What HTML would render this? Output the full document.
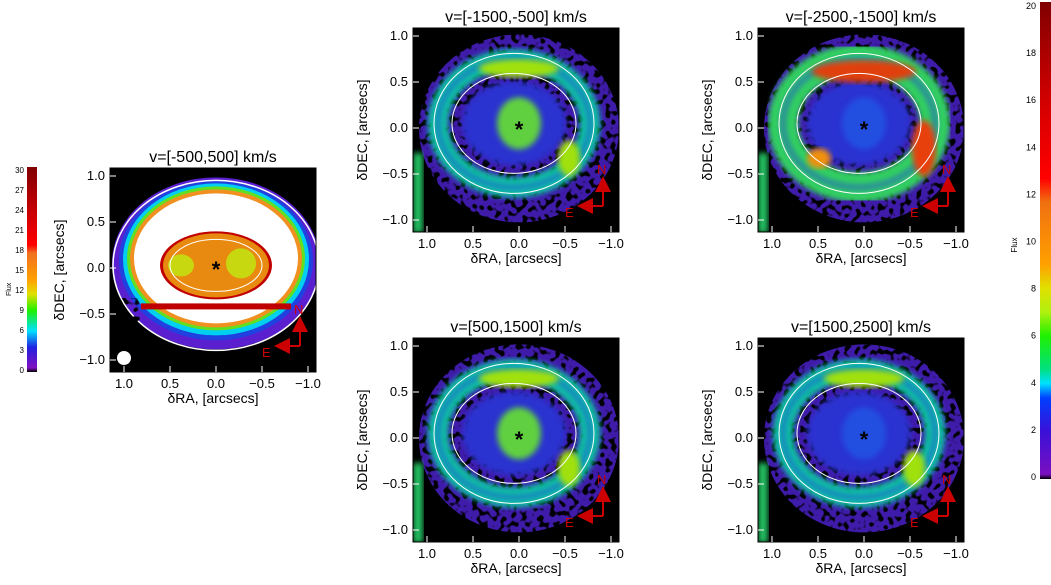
<!DOCTYPE html>
<html><head><meta charset="utf-8"><style>
body{margin:0;background:#fff;width:1051px;height:585px;overflow:hidden}
svg{display:block;font-family:"Liberation Sans",sans-serif}
</style></head><body>
<svg id="fig" width="1051" height="585" viewBox="0 0 1051 585">
<defs>
<linearGradient id="cbR" x1="0" y1="1" x2="0" y2="0">
<stop offset="0" stop-color="#000"/><stop offset="0.01" stop-color="#7a10c0"/><stop offset="0.1" stop-color="#3a10d8"/><stop offset="0.17" stop-color="#0040ff"/><stop offset="0.2" stop-color="#00e0ff"/><stop offset="0.23" stop-color="#00e080"/><stop offset="0.3" stop-color="#20f000"/><stop offset="0.35" stop-color="#b0f010"/><stop offset="0.4" stop-color="#e0e000"/><stop offset="0.45" stop-color="#ffa000"/><stop offset="0.58" stop-color="#f07010"/><stop offset="0.63" stop-color="#ff0000"/><stop offset="0.8" stop-color="#d00000"/><stop offset="1" stop-color="#800000"/>
</linearGradient>
<linearGradient id="cbL" x1="0" y1="1" x2="0" y2="0">
<stop offset="0" stop-color="#000"/><stop offset="0.02" stop-color="#8010c0"/><stop offset="0.12" stop-color="#2020e0"/><stop offset="0.2" stop-color="#00e0ff"/><stop offset="0.3" stop-color="#20f000"/><stop offset="0.38" stop-color="#e0e000"/><stop offset="0.45" stop-color="#ffa000"/><stop offset="0.58" stop-color="#f07020"/><stop offset="0.62" stop-color="#ff0000"/><stop offset="1" stop-color="#800000"/>
</linearGradient>
<filter id="bl"><feGaussianBlur stdDeviation="3"/></filter>
<filter id="speck" x="0" y="0" width="1" height="1">
<feTurbulence type="fractalNoise" baseFrequency="0.18" numOctaves="1" seed="3" result="n"/>
<feColorMatrix in="n" type="matrix" values="0 0 0 0 0  0 0 0 0 0  0 0 0 0 0  0 0 0 -9 4.4" result="m"/>
<feComposite in="m" in2="SourceGraphic" operator="in"/>
</filter>
</defs>
<g id="panels"></g>
<g>
<rect x="27" y="167" width="10" height="205" fill="url(#cbL)"/>
<text x="11" y="296" font-size="7" transform="rotate(-90 11 296)" fill="#000">Flux</text>
<g id="cbLticks" font-size="8" text-anchor="end"></g>
</g>
<g>
<rect x="1040" y="2" width="11" height="477" fill="url(#cbR)"/>
<text x="1017" y="245" font-size="8" transform="rotate(-90 1017 245)" text-anchor="middle">Flux</text>
<g id="cbRticks" font-size="9" text-anchor="end"></g>
</g>
</svg>
<script>
const NS="http://www.w3.org/2000/svg";
const panelTitles=["v=[-500,500] km/s","v=[-1500,-500] km/s","v=[-2500,-1500] km/s","v=[500,1500] km/s","v=[1500,2500] km/s"];
const tickValues=[1.0,0.5,0.0,-0.5,-1.0];
const tickLabels=["1.0","0.5","0.0","\u22120.5","\u22121.0"];
const cbLValues=[0,3,6,9,12,15,18,21,24,27,30];
const cbRValues=[0,2,4,6,8,10,12,14,16,18,20];
const panelX=[110,413,758,413,758];
const panelY=[168,28,28,338,338];
function mk(t,a,p){const e=document.createElementNS(NS,t);for(const k in a)e.setAttribute(k,a[k]);(p||document.getElementById('panels')).appendChild(e);return e;}
panelTitles.forEach((title,i)=>{
  const x0=panelX[i],y0=panelY[i],W=206,H=204;
  const sx=v=>x0+106-v*92, sy=v=>y0+100-v*92;
  const g=mk('g',{});
  
  
  mk('rect',{x:x0,y:y0,width:W,height:H,fill:'#000'},g);
  const cx=sx(0),cy=sy(0.05);
  const clip=mk('clipPath',{id:'c'+i},g);mk('rect',{x:x0,y:y0,width:W,height:H},clip);
  const m=mk('g',{'clip-path':'url(#c'+i+')'},g);
  if(i===0){
    mk('ellipse',{cx:cx,cy:cy,rx:104,ry:86,fill:'#5a20d0'},m);
    mk('ellipse',{cx:cx,cy:cy-3,rx:97,ry:80,fill:'#2040e0'},m);
    mk('ellipse',{cx:cx,cy:cy-4,rx:93,ry:76,fill:'#00d0f0'},m);
    mk('ellipse',{cx:cx,cy:cy-5,rx:89,ry:72,fill:'#60e020'},m);
    mk('ellipse',{cx:cx,cy:cy-5,rx:86,ry:69,fill:'#f09020'},m);
    mk('ellipse',{cx:cx,cy:cy-5,rx:82,ry:65,fill:'#fff'},m);
    mk('ellipse',{cx:cx,cy:cy+2,rx:103,ry:85,fill:'none',stroke:'#fff','stroke-width':1.5},m);
    mk('rect',{x:cx-75,y:cy+40,width:150,height:6,fill:'#c00000'},m);
    mk('ellipse',{cx:cx,cy:cy+2,rx:56,ry:34,fill:'#c00000'},m);
    mk('ellipse',{cx:cx,cy:cy+2,rx:53,ry:32,fill:'#e88a10'},m);
    mk('ellipse',{cx:cx-35,cy:cy+2,rx:13,ry:11,fill:'#c8d810'},m);
    mk('ellipse',{cx:cx+25,cy:cy,rx:15,ry:15,fill:'#c8d810'},m);
    mk('ellipse',{cx:cx,cy:cy+2,rx:46,ry:26,fill:'none',stroke:'#fff','stroke-width':1},m);
    mk('rect',{x:x0,y:y0+130,width:30,height:75,fill:'#000',filter:'url(#speck)'},m);
    mk('circle',{cx:x0+14,cy:y0+190,r:7,fill:'#fff'},m);
  }else{
    const hot=i===2;
    mk('ellipse',{cx:cx,cy:cy+5,rx:100,ry:94,fill:'#4a20c8',opacity:0.85},m);
    mk('rect',{x:x0,y:y0,width:W,height:H,fill:'#000',filter:'url(#speck)'},m);
    mk('ellipse',{cx:cx-5,cy:cy,rx:52,ry:42,fill:'#2a30d0',filter:'url(#bl)'},m);
    mk('ellipse',{cx:cx-5,cy:cy,rx:76,ry:64,fill:'none',stroke:hot?'#30d060':'#10c8a0','stroke-width':hot?30:20,filter:'url(#bl)'},m);
    mk('ellipse',{cx:cx-5,cy:cy,rx:76,ry:64,fill:'none',stroke:'#2040e0','stroke-width':6,opacity:0.5,filter:'url(#bl)'},m);
    if(hot){
      mk('ellipse',{cx:cx,cy:cy-52,rx:52,ry:11,fill:'#e04010',filter:'url(#bl)'},m);
      mk('ellipse',{cx:cx+60,cy:cy+25,rx:12,ry:28,fill:'#e84010',filter:'url(#bl)'},m);
      mk('ellipse',{cx:cx-45,cy:cy+35,rx:12,ry:10,fill:'#f09010',filter:'url(#bl)'},m);
    }else{
      mk('ellipse',{cx:cx,cy:cy-55,rx:40,ry:9,fill:'#a0e010',filter:'url(#bl)'},m);
      mk('ellipse',{cx:cx+50,cy:cy+35,rx:11,ry:18,fill:'#a0e010',filter:'url(#bl)'},m);
    }
    mk('ellipse',{cx:cx,cy:cy,rx:22,ry:26,fill:i===1||i===3?'#60d040':'#2050e0',filter:'url(#bl)'},m);
    mk('ellipse',{cx:cx-5,cy:cy,rx:80,ry:70,fill:'none',stroke:'#fff','stroke-width':1},m);
    mk('ellipse',{cx:cx-5,cy:cy,rx:62,ry:50,fill:'none',stroke:'#fff','stroke-width':1},m);
    mk('rect',{x:x0,y:y0+125,width:10,height:80,fill:'#20c060',filter:'url(#bl)'},m);
  }
  const st=mk('text',{x:cx,y:sy(0)+9,'font-size':22,'text-anchor':'middle','font-weight':'bold',fill:'#000'},g);st.textContent='*';
  const ax=x0+190,ay=y0+178;
  mk('path',{d:`M${ax} ${ay} V${ay-18} M${ax} ${ay} H${ax-22}`,stroke:'#c00',fill:'none','stroke-width':2},g);
  mk('polygon',{points:`${ax-8},${ay-14} ${ax+8},${ay-14} ${ax},${ay-30}`,fill:'#c00'},g);
  mk('polygon',{points:`${ax-10},${ay-8} ${ax-10},${ay+8} ${ax-26},${ay}`,fill:'#c00'},g);
  const n=mk('text',{x:ax-6,y:ay-32,'font-size':13,fill:'#c00'},g);n.textContent='N';
  const e=mk('text',{x:ax-38,y:ay+11,'font-size':13,fill:'#c00'},g);e.textContent='E';
  mk('rect',{x:x0,y:y0,width:W,height:H,fill:'none',stroke:'#000','stroke-width':1},g);
  tickValues.forEach((v,k)=>{
    const tx=sx(v),ty=sy(v);
    mk('line',{x1:tx,y1:y0+H,x2:tx,y2:y0+H-6,stroke:'#fff'},g);
    mk('line',{x1:x0,y1:ty,x2:x0+6,y2:ty,stroke:'#fff'},g);
    const lx=mk('text',{x:tx,y:y0+H+16,'font-size':13,'text-anchor':'middle'},g);lx.textContent=tickLabels[k];
    const ly=mk('text',{x:x0-5,y:ty+4,'font-size':13,'text-anchor':'end'},g);ly.textContent=tickLabels[k];
  });
  const t=mk('text',{x:x0+W/2,y:y0-6,'font-size':16,'text-anchor':'middle'},g);t.textContent=title;
  
  
  const xl=mk('text',{x:x0+W/2,y:y0+H+31,'font-size':14,'text-anchor':'middle'},g);xl.textContent='\u03b4RA, [arcsecs]';
  
  
  const yl=mk('text',{x:x0-46,y:y0+H/2,'font-size':14,'text-anchor':'middle',transform:`rotate(-90 ${x0-46} ${y0+H/2})`},g);yl.textContent='\u03b4DEC, [arcsecs]';
  
  
});
const gl=document.getElementById('cbLticks');
cbLValues.forEach(v=>{const y=370-v/30*200;const t=mk('text',{x:24,y:y+3},gl);t.textContent=v;});
const gr=document.getElementById('cbRticks');
cbRValues.forEach(v=>{const y=476-v/20*471;const t=mk('text',{x:1036,y:y+4},gr);t.textContent=v;});
</script>
</body></html>
